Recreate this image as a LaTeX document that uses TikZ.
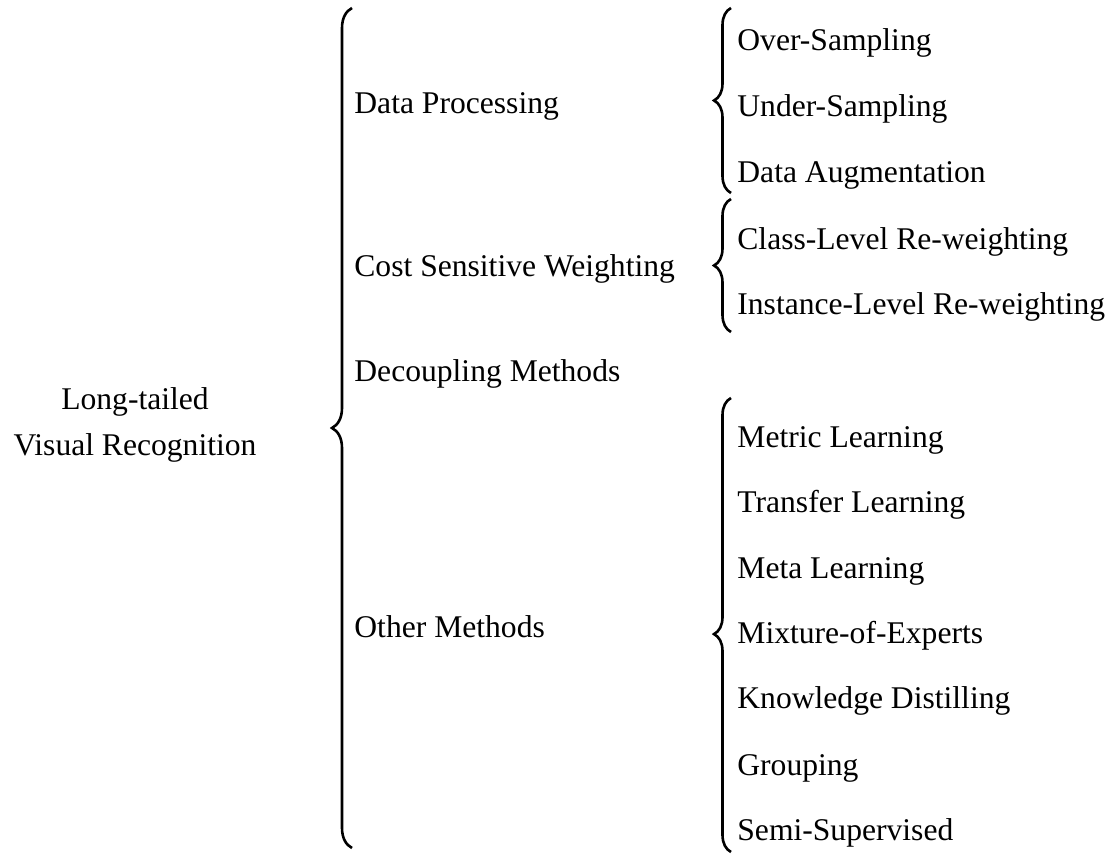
\documentclass[tikz,border=0pt]{standalone}
\usepackage{fontspec}
\setmainfont{Liberation Serif}
\usetikzlibrary{decorations.pathreplacing}

\begin{document}
\begin{tikzpicture}[x=0.5pt,y=-0.5pt,
   font=\fontsize{15.8}{23}\selectfont,
   item/.style={anchor=base west,inner sep=0pt},
   brc/.style={decorate,decoration={brace,amplitude=#1},line width=1.3pt},
   brc/.default=8.5pt]
  \useasboundingbox (0,0) rectangle (1113,854);
  \node[align=center,inner sep=0pt] (root) at (135,425) {Long-tailed\\Visual Recognition};
  % first level
  \node[item] (dp)  at (354,114) {Data Processing};
  \node[item] (csw) at (354,277) {Cost Sensitive Weighting};
  \node[item] (dcm) at (354,382) {Decoupling Methods};
  \node[item] (om)  at (354,638) {Other Methods};
  % second level
  \node[item] (os)  at (737,51)  {Over-Sampling};
  \node[item] (us)  at (737,117) {Under-Sampling};
  \node[item] (da)  at (737,183) {Data Augmentation};
  \node[item] (clr) at (737,250) {Class-Level Re-weighting};
  \node[item] (ilr) at (737,315) {Instance-Level Re-weighting};
  \node[item] (ml)  at (737,448) {Metric Learning};
  \node[item] (tl)  at (737,513) {Transfer Learning};
  \node[item] (mtl) at (737,579) {Meta Learning};
  \node[item] (moe) at (737,644) {Mixture-of-Experts};
  \node[item] (kd)  at (737,709) {Knowledge Distilling};
  \node[item] (grp) at (737,775) {Grouping};
  \node[item] (ss)  at (737,840) {Semi-Supervised};
  % braces
  \coordinate (r0) at (352,8);   \coordinate (r1) at (352,848);
  \coordinate (p0) at (731,8);   \coordinate (p1) at (731,193);
  \coordinate (w0) at (731,199); \coordinate (w1) at (731,332);
  \coordinate (o0) at (731,398); \coordinate (o1) at (731,852);
  \draw[brc=10pt] (r1) -- (r0);
  \draw[brc] (p1) -- (p0);
  \draw[brc] (w1) -- (w0);
  \draw[brc,decoration={aspect=0.48}] (o1) -- (o0);
\end{tikzpicture}
\end{document}
